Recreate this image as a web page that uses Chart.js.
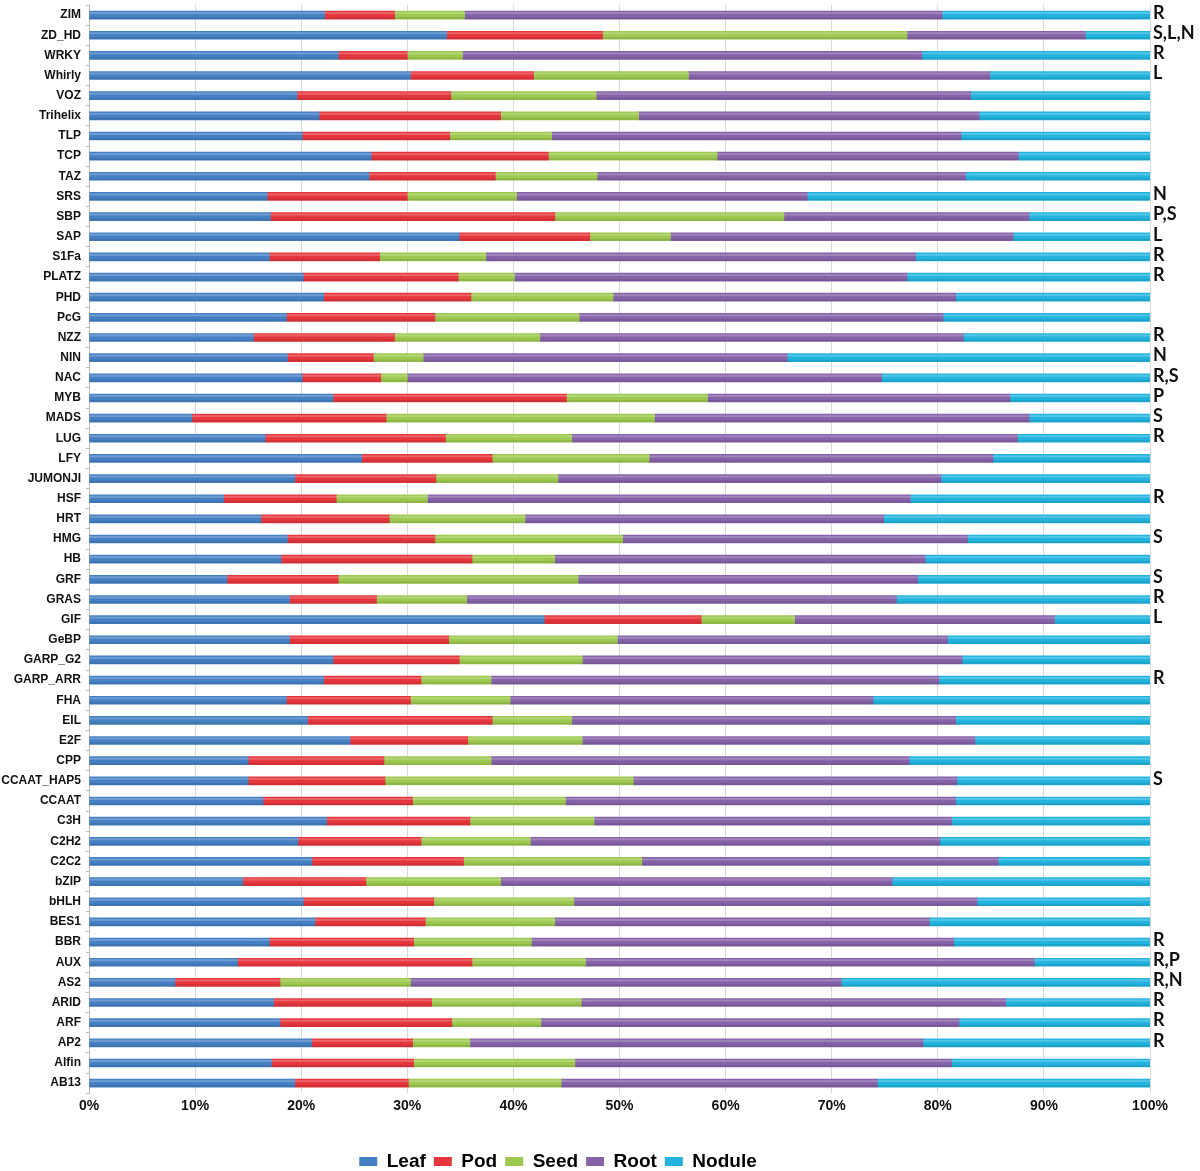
<!DOCTYPE html>
<html>
<head>
<meta charset="utf-8">
<script src="https://cdn.jsdelivr.net/npm/chart.js@4.4.1/dist/chart.umd.min.js"></script>
<style>
    html, body { margin: 0; padding: 0; background: #fff; }
    #wrap { width: 1200px; height: 1171px; position: relative; }
</style>
</head>
<body>
<div id="wrap"><canvas id="tissueChart"></canvas></div>
<script>
// Gene families, top to bottom
const families = ['ZIM', 'ZD_HD', 'WRKY', 'Whirly', 'VOZ', 'Trihelix', 'TLP', 'TCP', 'TAZ', 'SRS',
    'SBP', 'SAP', 'S1Fa', 'PLATZ', 'PHD', 'PcG', 'NZZ', 'NIN', 'NAC', 'MYB',
    'MADS', 'LUG', 'LFY', 'JUMONJI', 'HSF', 'HRT', 'HMG', 'HB', 'GRF', 'GRAS',
    'GIF', 'GeBP', 'GARP_G2', 'GARP_ARR', 'FHA', 'EIL', 'E2F', 'CPP', 'CCAAT_HAP5', 'CCAAT',
    'C3H', 'C2H2', 'C2C2', 'bZIP', 'bHLH', 'BES1', 'BBR', 'AUX', 'AS2', 'ARID',
    'ARF', 'AP2', 'Alfin', 'AB13'];

// Share of expression per tissue (%)
const leaf = [22.2, 33.7, 23.5, 30.3, 19.6, 21.7, 20.1, 26.6, 26.4, 16.8,
    17.1, 34.9, 17.0, 20.2, 22.1, 18.6, 15.5, 18.7, 20.1, 23.0,
    9.7, 16.6, 25.7, 19.4, 12.7, 16.2, 18.7, 18.1, 13.0, 18.9,
    42.9, 18.9, 23.0, 22.1, 18.6, 20.6, 24.6, 15.0, 15.0, 16.4,
    22.4, 19.7, 21.0, 14.5, 20.2, 21.3, 17.0, 14.0, 8.1, 17.4,
    18.0, 21.0, 17.2, 19.4];
const pod = [6.6, 14.7, 6.5, 11.6, 14.5, 17.1, 13.9, 16.7, 11.9, 13.2,
    26.8, 12.3, 10.4, 14.6, 13.9, 14.0, 13.3, 8.1, 7.4, 22.0,
    18.3, 17.0, 12.3, 13.3, 10.6, 12.1, 13.9, 18.0, 10.5, 8.2,
    14.8, 15.0, 11.9, 9.2, 11.7, 17.4, 11.1, 12.8, 12.9, 14.1,
    13.5, 11.6, 14.3, 11.6, 12.3, 10.4, 13.6, 22.1, 9.9, 14.9,
    16.2, 9.5, 13.4, 10.7];
const seed = [6.6, 28.7, 5.2, 14.6, 13.7, 13.0, 9.6, 15.9, 9.6, 10.3,
    21.6, 7.6, 10.0, 5.3, 13.4, 13.6, 13.7, 4.7, 2.5, 13.3,
    25.3, 11.9, 14.8, 11.5, 8.6, 12.8, 17.7, 7.8, 22.6, 8.5,
    8.8, 15.9, 11.6, 6.6, 9.4, 7.5, 10.8, 10.1, 23.4, 14.4,
    11.7, 10.3, 16.8, 12.7, 13.2, 12.2, 11.1, 10.7, 12.3, 14.1,
    8.4, 5.4, 15.2, 14.4];
const root = [45.0, 16.8, 43.3, 28.4, 35.3, 32.1, 38.6, 28.4, 34.7, 27.4,
    23.1, 32.3, 40.5, 37.0, 32.3, 34.3, 39.9, 34.3, 44.7, 28.5,
    35.3, 42.0, 32.4, 36.1, 45.5, 33.8, 32.5, 34.9, 32.0, 40.5,
    24.5, 31.1, 35.8, 42.2, 34.2, 36.2, 37.0, 39.4, 30.5, 36.8,
    33.7, 38.6, 33.6, 36.9, 38.0, 35.3, 39.8, 42.3, 40.6, 40.0,
    39.4, 42.7, 35.5, 29.8];
const nodule = [19.6, 6.1, 21.5, 15.1, 16.9, 16.1, 17.8, 12.4, 17.4, 32.3,
    11.4, 12.9, 22.1, 22.9, 18.3, 19.5, 17.6, 34.2, 25.3, 13.2,
    11.4, 12.5, 14.8, 19.7, 22.6, 25.1, 17.2, 21.2, 21.9, 23.9,
    9.0, 19.1, 17.7, 19.9, 26.1, 18.3, 16.5, 22.7, 18.2, 18.3,
    18.7, 19.8, 14.3, 24.3, 16.3, 20.8, 18.5, 10.9, 29.1, 13.6,
    18.0, 21.4, 18.7, 25.7];

// Tissue-specific markers written right of the bars
const markers = ['R', 'S,L,N', 'R', 'L', '', '', '', '', '', 'N',
    'P,S', 'L', 'R', 'R', '', '', 'R', 'N', 'R,S', 'P',
    'S', 'R', '', '', 'R', '', 'S', '', 'S', 'R',
    'L', '', '', 'R', '', '', '', '', 'S', '',
    '', '', '', '', '', '', 'R', 'R,P', 'R,N', 'R',
    'R', 'R', '', ''];

const tickValues = [0, 10, 20, 30, 40, 50, 60, 70, 80, 90, 100];

const seriesNames = ['Leaf', 'Pod', 'Seed', 'Root', 'Nodule'];
const seriesColors = ['#4680c4', '#e6363d', '#9dc950', '#8662a8', '#22b4de'];

const FONT = '"Liberation Sans", Arial, sans-serif';

const markerPlugin = {
    id: 'markers',
    afterDatasetsDraw(chart) {
        const ctx = chart.ctx;
        const yScale = chart.scales.y;
        const x = chart.chartArea.right + 3;
        ctx.save();
        ctx.font = 'bold 18px Lato, "Open Sans", sans-serif';
        ctx.fillStyle = '#111';
        ctx.textAlign = 'left';
        ctx.textBaseline = 'middle';
        markers.forEach((m, i) => {
            if (!m) return;
            ctx.fillText(m, x, yScale.getPixelForValue(i) - 2);
        });
        ctx.restore();
    }
};

// Soft highlight on the upper part of each bar, like the old spreadsheet look
const shinePlugin = {
    id: 'shine',
    afterDatasetsDraw(chart) {
        const ctx = chart.ctx;
        ctx.save();
        chart.data.datasets.forEach((ds, di) => {
            chart.getDatasetMeta(di).data.forEach(bar => {
                const left = Math.min(bar.x, bar.base);
                const w = Math.abs(bar.x - bar.base);
                const top = bar.y - bar.height / 2;
                ctx.fillStyle = 'rgba(255,255,255,0.22)';
                ctx.fillRect(left, top + 1, w, 2);
                ctx.fillStyle = 'rgba(0,0,0,0.10)';
                ctx.fillRect(left, top + bar.height - 2, w, 2);
            });
        });
        ctx.restore();
    }
};

// Legend: trim the space under it and move it a bit left, as in the original figure
const legendTweak = {
    id: 'legendTweak',
    afterInit(chart) {
        const lg = chart.legend;
        if (!lg) return;
        const fit = lg.fit;
        lg.fit = function () {
            fit.call(this);
            this.height -= 10;
        };
    },
    afterLayout(chart) {
        const lg = chart.legend;
        if (!lg) return;
        lg.left -= 17;
        lg.right -= 17;
    }
};

const datasets = [leaf, pod, seed, root, nodule].map((data, i) => ({
    label: seriesNames[i],
    data: data,
    backgroundColor: seriesColors[i],
    borderWidth: 0,
    barThickness: 8
}));

new Chart(document.getElementById('tissueChart'), {
    type: 'bar',
    data: { labels: families, datasets: datasets },
    plugins: [shinePlugin, markerPlugin, legendTweak],
    options: {
        indexAxis: 'y',
        responsive: true,
        maintainAspectRatio: false,
        animation: false,
        layout: { padding: { top: 0, right: 50, bottom: 0, left: 0 } },
        plugins: {
            legend: {
                position: 'bottom',
                labels: {
                    boxWidth: 18,
                    boxHeight: 9,
                    padding: 8,
                    color: '#000',
                    font: { family: FONT, size: 19, weight: 'bold' }
                }
            },
            tooltip: { enabled: false }
        },
        scales: {
            x: {
                stacked: true,
                min: 0,
                max: 100,
                afterBuildTicks: (scale) => { scale.ticks = tickValues.map(v => ({ value: v })); },
                afterFit: (scale) => { scale.height += 24; },
                ticks: {
                    color: '#111',
                    padding: 5,
                    callback: (v) => v + '%',
                    font: { family: FONT, size: 14, weight: 'bold' }
                },
                grid: { color: '#d9d9d9', drawTicks: false },
                border: { display: false }
            },
            y: {
                stacked: true,
                afterFit: (scale) => {
                    scale.width = 89;
                    scale.paddingTop = 5;
                    scale.paddingBottom = 0;
                },
                ticks: {
                    color: '#111',
                    padding: 5,
                    autoSkip: false,
                    font: { family: FONT, size: 12, weight: 'bold' }
                },
                grid: { drawOnChartArea: false, drawTicks: true, tickLength: 3, color: '#bbb' },
                border: { display: true, color: '#bbb' }
            }
        }
    }
});
</script>
</body>
</html>
